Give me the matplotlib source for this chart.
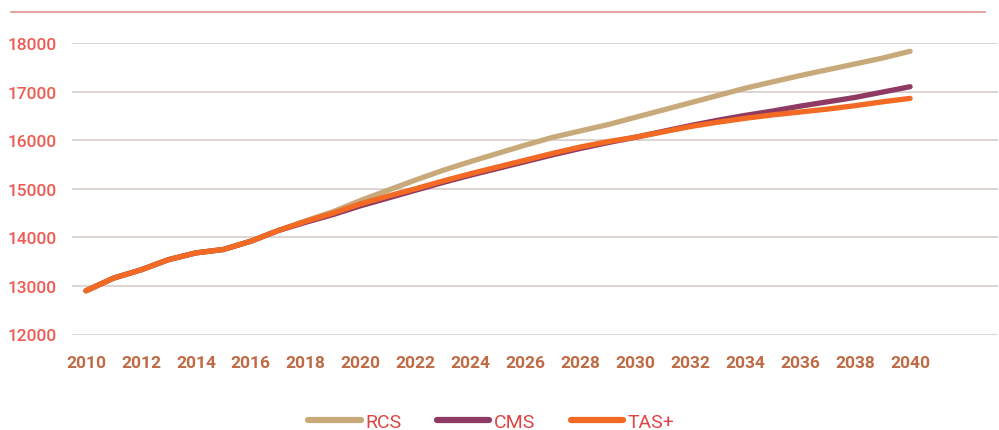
import matplotlib
matplotlib.use("Agg")
import matplotlib.pyplot as plt
from matplotlib.lines import Line2D

years = list(range(2010, 2041))
rcs = [12900, 13160, 13330, 13540, 13680, 13750, 13920, 14140, 14340, 14530,
       14760, 14970, 15180, 15380, 15560, 15730, 15900, 16060, 16190, 16320,
       16470, 16620, 16770, 16920, 17070, 17200, 17330, 17450, 17570, 17690, 17830]
cms = [12900, 13160, 13330, 13540, 13680, 13750, 13920, 14140, 14310, 14470,
       14650, 14810, 14970, 15130, 15280, 15420, 15560, 15700, 15830, 15950,
       16060, 16180, 16300, 16410, 16510, 16600, 16700, 16790, 16880, 16990, 17100]
tas = [12900, 13160, 13330, 13540, 13680, 13750, 13920, 14140, 14330, 14500,
       14690, 14850, 15000, 15160, 15310, 15450, 15590, 15730, 15860, 15970,
       16060, 16170, 16280, 16370, 16450, 16520, 16580, 16640, 16710, 16790, 16860]
series_names = ["RCS", "CMS", "TAS+"]
colors = ["#C8A97A", "#8E3A62", "#F26A23"]
yticks = [12000, 13000, 14000, 15000, 16000, 17000, 18000]
xticks = list(range(2010, 2041, 2))

plt.rcParams['font.family'] = ['Roboto', 'DejaVu Sans']

fig = plt.figure(figsize=(9.99, 4.31), dpi=100)
W, H = 999, 431
left, right = 72 / W, 998 / W
bottom, top = 1 - 335.5 / H, 1 - 44 / H
ax = fig.add_axes([left, bottom, right - left, top - bottom])

for vals, name, c in zip([rcs, cms, tas], series_names, colors):
    ax.plot(years, vals, color=c, lw=3.8, solid_capstyle='round',
            solid_joinstyle='round', label=name)

ax.set_xlim(2009.49, 2043.2)
ax.set_ylim(12000, 18000)
ax.set_yticks(yticks)
ax.set_yticklabels([str(v) for v in yticks])
ax.set_xticks(xticks)
ax.set_xticklabels([str(v) for v in xticks])
ax.grid(axis='y', color='#D8CCC8', lw=1.2)
ax.set_axisbelow(True)
for s in ax.spines.values():
    s.set_visible(False)
ax.tick_params(axis='y', length=0, pad=11, labelsize=12.5, labelcolor='#EE5B52')
ax.tick_params(axis='x', length=0, pad=15, labelsize=12.5, labelcolor='#C06A44')
for t in ax.get_xticklabels():
    t.set_fontweight('bold')
for t in ax.get_yticklabels():
    t.set_fontweight('medium')

fig.add_artist(Line2D([11 / W, 985 / W], [1 - 13 / H, 1 - 13 / H],
                      color='#E39A9A', lw=1.3, transform=fig.transFigure))

leg = fig.legend(loc='center', bbox_to_anchor=(0.492, 1 - 423 / H), ncol=3,
                 frameon=False, fontsize=14, handlelength=2.7,
                 handletextpad=0.25, columnspacing=1.8)
for t in leg.get_texts():
    t.set_color('#E04545')
for l in leg.get_lines():
    l.set_linewidth(4.5)

fig.savefig("out.png", dpi=100)
